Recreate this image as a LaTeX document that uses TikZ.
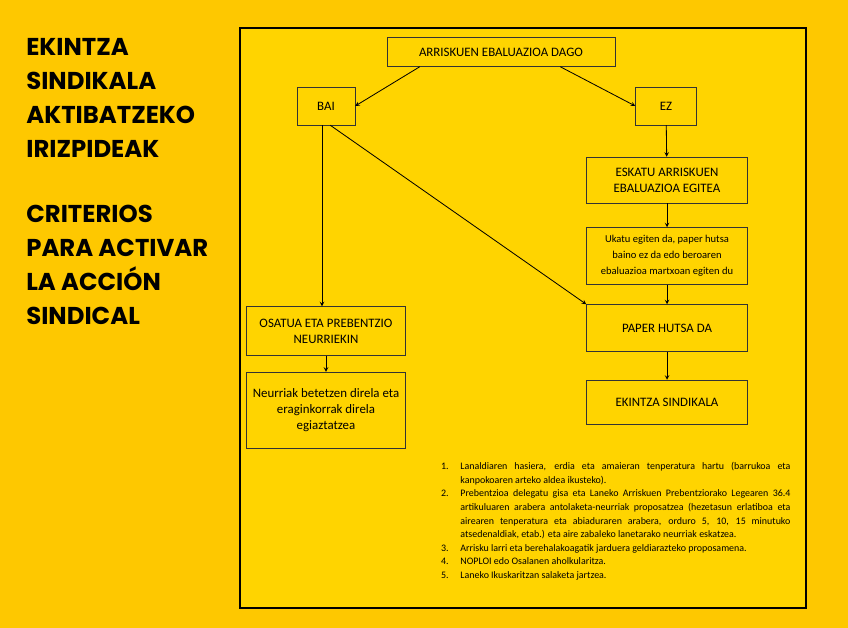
\documentclass[tikz,border=0pt]{standalone}
\usepackage{fontspec}
\setmainfont{Carlito}
\newfontfamily\titlefont{Poppins}
\usetikzlibrary{positioning}
\definecolor{bgyellow}{RGB}{254,200,0}
\definecolor{panelyellow}{RGB}{255,212,0}
\newcommand{\itm}[1]{\noindent\llap{#1\hspace{0.35cm}}}
\tikzset{
  box/.style={draw=black!80, thin, align=center, font=\fontsize{11}{13.5}\selectfont, inner sep=2pt},
  ttl/.style={anchor=north west, align=left, font=\titlefont\bfseries\fontsize{20.8}{29}\selectfont},
}
\begin{document}
\begin{tikzpicture}[x=0.03cm,y=-0.03cm,>=stealth,line width=0.7pt]
  \fill[bgyellow] (0,0) rectangle (848,628);
  \useasboundingbox (0,0) rectangle (848,628);
  \draw[line width=2.2pt, fill=panelyellow] (240,28) rectangle (806,608);

  % titles
  \node[ttl] (Title1) at (22,34) {EKINTZA\\SINDIKALA\\AKTIBATZEKO\\IRIZPIDEAK};
  \node[ttl] (Title2) at (22,201) {CRITERIOS\\PARA ACTIVAR\\LA ACCIÓN\\SINDICAL};

  % boxes
  \node[box, minimum width=6.84cm, minimum height=0.87cm] (Dago) at (501,52) {ARRISKUEN EBALUAZIOA DAGO};
  \node[box, minimum width=1.74cm, minimum height=1.14cm] (Bai) at (326,106) {BAI};
  \node[box, minimum width=1.83cm, minimum height=1.14cm] (Ez) at (666,106) {EZ};
  \node[box, minimum width=4.83cm, minimum height=1.38cm] (Eskatu) at (667,180) {ESKATU ARRISKUEN\\EBALUAZIOA EGITEA};
  \node[box, minimum width=4.83cm, minimum height=1.71cm, font=\fontsize{9}{13.5}\selectfont] (Ukatu) at (667,256) {Ukatu egiten da, paper hutsa\\baino ez da edo beroaren\\ebaluazioa martxoan egiten du};
  \node[box, minimum width=4.83cm, minimum height=1.41cm] (Paper) at (667,328) {PAPER HUTSA DA};
  \node[box, minimum width=4.83cm, minimum height=1.32cm] (Ekintza) at (667,402) {EKINTZA SINDIKALA};
  \node[box, minimum width=4.77cm, minimum height=1.47cm] (Osatua) at (326,331) {OSATUA ETA PREBENTZIO\\NEURRIEKIN};
  \node[box, minimum width=4.77cm, minimum height=2.28cm] (Neurriak) at (326,410) {Neurriak betetzen direla eta\\eraginkorrak direla\\egiaztatzea};

  % connectors
  \draw[->] (Dago.south west) ++(33,0) coordinate (dl) -- (Bai.east);
  \draw[->] (Dago.south east) ++(-55,0) coordinate (dr) -- (Ez.west);
  \draw[->] (Ez) -- (Eskatu);
  \draw[->] (Eskatu) -- (Ukatu);
  \draw[->] (Ukatu) -- (Paper);
  \draw[->] (Paper) -- (Ekintza);
  \draw[->] (Bai.south) ++(-4,0) coordinate (bs) -- (bs |- Osatua.north);
  \draw[->] (Bai.south east) ++(-25,0) coordinate (be) -- (Paper.north west);
  \draw[->] (Osatua) -- (Neurriak);

  % list
  \node[anchor=north west, text width=9.9cm, align=justify, font=\fontsize{8.5}{11.6}\selectfont, inner sep=0pt] (List) at (460,462) {%
    \hyphenpenalty=10000\exhyphenpenalty=10000
    \itm{1.}Lanaldiaren hasiera, erdia eta amaieran tenperatura hartu (barrukoa eta kanpokoaren arteko aldea ikusteko).\par
    \itm{2.}Prebentzioa delegatu gisa eta Laneko Arriskuen Prebentziorako Legearen 36.4 artikuluaren arabera antolaketa-neurriak proposatzea (hezetasun erlatiboa eta airearen tenperatura eta abiaduraren arabera, orduro 5, 10, 15 minutuko atsedenaldiak, etab.) eta aire zabaleko lanetarako neurriak eskatzea.\par
    \itm{3.}Arrisku larri eta berehalakoagatik jarduera geldiarazteko proposamena.\par
    \itm{4.}NOPLOI edo Osalanen aholkularitza.\par
    \itm{5.}Laneko Ikuskaritzan salaketa jartzea.\par};
\end{tikzpicture}
\end{document}
